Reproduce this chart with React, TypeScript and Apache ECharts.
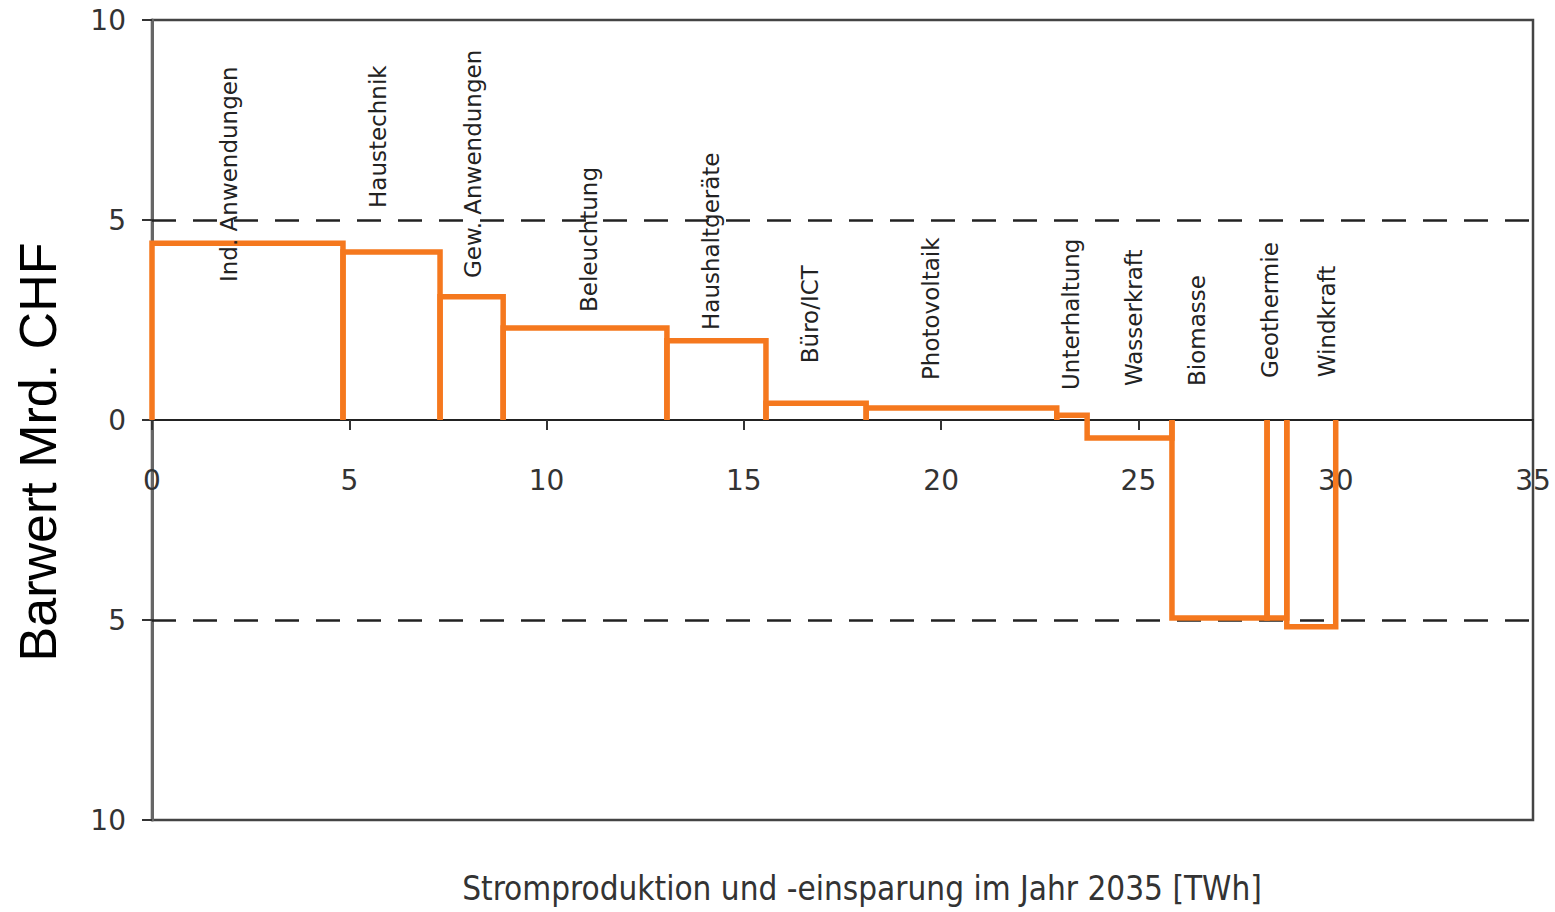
import React, { useEffect, useRef } from "react";
import * as echarts from "echarts";

const categories = [
  "Ind. Anwendungen",
  "Haustechnik",
  "Gew. Anwendungen",
  "Beleuchtung",
  "Haushaltgeräte",
  "Büro/ICT",
  "Photovoltaik",
  "Unterhaltung",
  "Wasserkraft",
  "Biomasse",
  "Geothermie",
  "Windkraft",
];
// TWh (width of each step)
const twh = [4.84, 2.46, 1.6, 4.15, 2.51, 2.54, 4.83, 0.77, 2.15, 2.41, 0.5, 1.24];
// Barwert Mrd. CHF (height of each step)
const barwert = [4.42, 4.2, 3.08, 2.3, 1.98, 0.42, 0.3, 0.12, -0.45, -4.95, -4.95, -5.17];
// label anchor (data units): x centre of text, y where text starts
const labelX = [1.96, 5.73, 8.13, 11.07, 14.17, 16.68, 19.74, 23.3, 24.9, 26.48, 28.33, 29.78];
const labelY = [3.45, 5.3, 3.55, 2.7, 2.25, 1.42, 1.0, 0.75, 0.85, 0.85, 1.05, 1.07];
const referenceLines = [5, -5];
const xTicks = { min: 0, max: 35, interval: 5 };
const yTicks = { min: -10, max: 10, interval: 5 };

export default function App() {
  const ref = useRef<HTMLDivElement>(null);
  useEffect(() => {
    if (!ref.current) return;
    const chart = echarts.init(ref.current, undefined, { renderer: "svg" });
    let acc = 0;
    const steps = twh.map((w, i) => {
      const x0 = acc;
      acc += w;
      return [x0, acc, barwert[i]];
    });
    const labels = labelX.map((x, i) => [x, labelY[i], i]);
    const orange = "#F5781E";
    const gridTop = 20;
    const gridBottom = 92;
    const plotH = 912 - gridTop - gridBottom;
    chart.setOption({
      animation: false,
      grid: {
        left: 152,
        right: 22,
        top: gridTop,
        bottom: gridBottom,
        show: true,
        borderColor: "#444",
        borderWidth: 2.5,
        backgroundColor: "transparent",
      },
      xAxis: {
        type: "value",
        min: xTicks.min,
        max: xTicks.max,
        interval: xTicks.interval,
        offset: -plotH / 2,
        axisLine: { show: true, onZero: false, lineStyle: { color: "#222", width: 2 } },
        axisTick: { show: true, inside: false, length: 10, lineStyle: { color: "#333", width: 2 } },
        axisLabel: {
          margin: 46,
          color: "#333",
          fontSize: 28,
          fontFamily: "DejaVu Sans",
        },
        splitLine: { show: false },
      },
      yAxis: {
        type: "value",
        min: yTicks.min,
        max: yTicks.max,
        interval: yTicks.interval,
        axisLine: { show: true, onZero: false, lineStyle: { color: "#666", width: 3 } },
        axisTick: { show: true, inside: false, length: 10, lineStyle: { color: "#333", width: 2 } },
        axisLabel: {
          margin: 26,
          color: "#333",
          fontSize: 28,
          fontFamily: "DejaVu Sans",
          formatter: (v: number) => String(Math.abs(v)),
        },
        splitLine: { show: false },
      },
      graphic: [
        {
          type: "text",
          x: 38,
          y: 452,
          rotation: Math.PI / 2,
          style: {
            text: "Barwert Mrd. CHF",
            align: "center",
            verticalAlign: "middle",
            font: '52px "Liberation Sans"',
            fill: "#000",
          },
        },
        {
          type: "text",
          x: 862,
          y: 888,
          style: {
            text: "Stromproduktion und -einsparung im Jahr 2035 [TWh]",
            align: "center",
            verticalAlign: "middle",
            font: '33px "DejaVu Sans Condensed"',
            fill: "#333",
          },
        },
      ],
      series: [
        {
          type: "custom",
          name: "steps",
          data: steps,
          encode: { x: [0, 1], y: 2 },
          z: 3,
          renderItem: (params: any, api: any) => {
            const x0 = api.value(0);
            const x1 = api.value(1);
            const v = api.value(2);
            const a = api.coord([x0, 0]);
            const b = api.coord([x0, v]);
            const c = api.coord([x1, v]);
            const d = api.coord([x1, 0]);
            return {
              type: "polyline",
              shape: { points: [a, b, c, d] },
              style: { stroke: orange, lineWidth: 5.5, fill: "none", lineJoin: "miter" },
            };
          },
          markLine: {
            silent: true,
            symbol: ["none", "none"],
            label: { show: false },
            lineStyle: { type: [24, 17], color: "#222", width: 2.5 },
            data: referenceLines.map((y) => ({ yAxis: y })),
            z: 1,
          },
        },
        {
          type: "custom",
          name: "labels",
          data: labels,
          encode: { x: 0, y: 1 },
          z: 4,
          renderItem: (params: any, api: any) => {
            const p = api.coord([api.value(0), api.value(1)]);
            return {
              type: "text",
              x: p[0],
              y: p[1],
              rotation: Math.PI / 2,
              style: {
                text: categories[params.dataIndex],
                align: "left",
                verticalAlign: "middle",
                font: '23px "DejaVu Sans"',
                fill: "#222",
              },
            };
          },
        },
      ],
    });
    return () => chart.dispose();
  }, []);
  return (
    <div
      ref={ref}
      style={{ position: "fixed", left: 0, top: 0, width: 1555, height: 912, background: "#fff" }}
    />
  );
}
